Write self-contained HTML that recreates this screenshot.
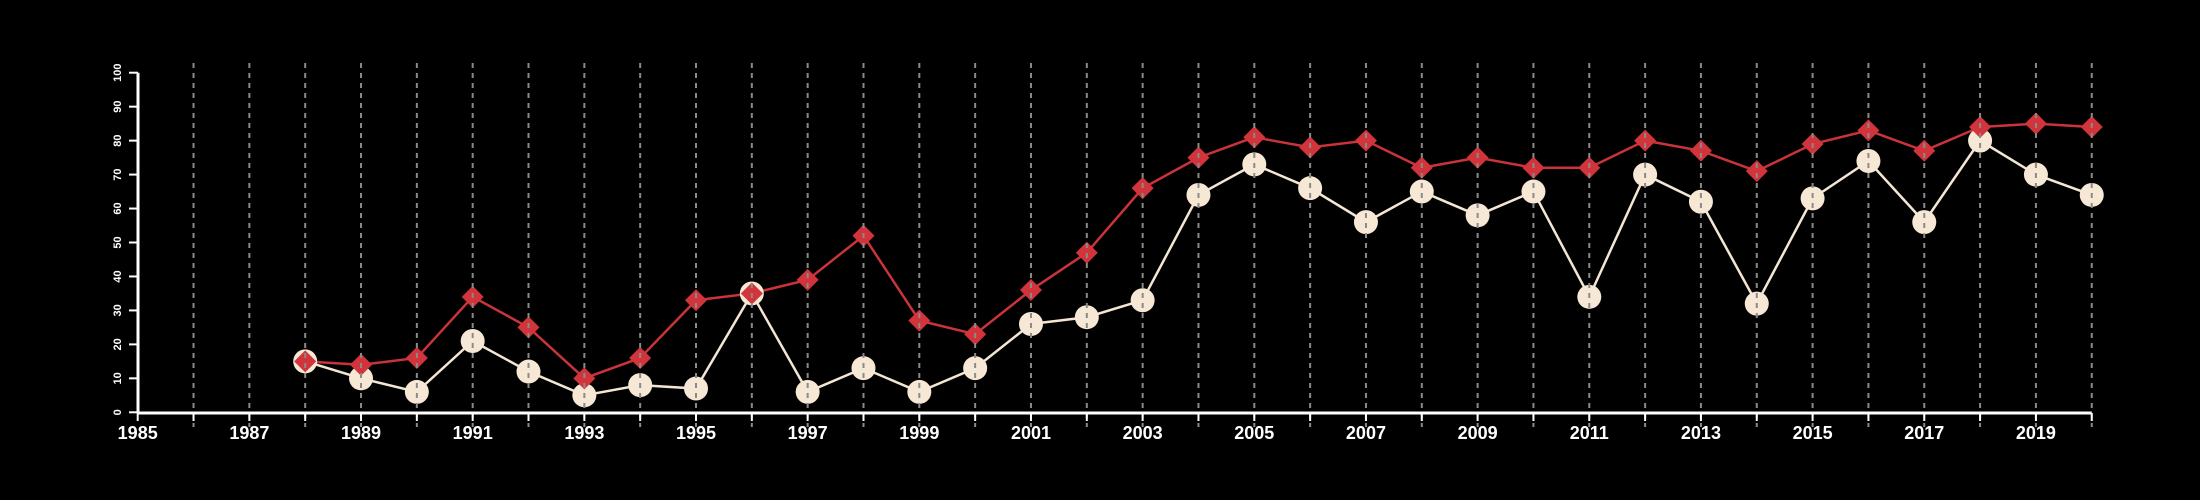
<!DOCTYPE html>
<html><head><meta charset="utf-8"><style>
html,body{margin:0;padding:0;background:#000;}
svg{display:block;font-family:"Liberation Sans",sans-serif;}
</style></head><body>
<svg id="chart" width="2200" height="500" viewBox="0 0 2200 500">
<rect width="2200" height="500" fill="#000"/>
<g id="series"></g><g id="grid"></g><g id="axes"></g>
</svg>
<script>
const years = [1988,1989,1990,1991,1992,1993,1994,1995,1996,1997,1998,1999,2000,2001,2002,2003,2004,2005,2006,2007,2008,2009,2010,2011,2012,2013,2014,2015,2016,2017,2018,2019,2020];
const redValues = [15,14,16,34,25,10,16,33,35,39,52,27,23,36,47,66,75,81,78,80,72,75,72,72,80,77,71,79,83,77,84,85,84];
const creamValues = [15,10,6,21,12,5,8,7,35,6,13,6,13,26,28,33,64,73,66,56,65,58,65,34,70,62,32,63,74,56,80,70,64];
const yTicks = [0,10,20,30,40,50,60,70,80,90,100];
const xTickYears = [1985,1986,1987,1988,1989,1990,1991,1992,1993,1994,1995,1996,1997,1998,1999,2000,2001,2002,2003,2004,2005,2006,2007,2008,2009,2010,2011,2012,2013,2014,2015,2016,2017,2018,2019,2020];
const xLabels = ["1985","1987","1989","1991","1993","1995","1997","1999","2001","2003","2005","2007","2009","2011","2013","2015","2017","2019"];

const NS="http://www.w3.org/2000/svg";
const X=y=>137.7+(y-1985)*55.83;
const Y=v=>412.3-v*3.396;
function mk(tag,attrs,parent){const e=document.createElementNS(NS,tag);for(const k in attrs)e.setAttribute(k,attrs[k]);parent.appendChild(e);return e;}
const grid=document.getElementById('grid'),axes=document.getElementById('axes'),series=document.getElementById('series');

xTickYears.forEach(y=>{
  if(y===1985)return;
  const l=mk('line',{x1:X(y),x2:X(y),y1:63,y2:427,stroke:'#8a8a8a','stroke-width':2,'stroke-dasharray':'5,5'},grid);
  
  
});

// cream series
const cPts=years.map((y,i)=>X(y)+','+Y(creamValues[i])).join(' ');
const cl=mk('polyline',{points:cPts,fill:'none',stroke:'#f3e6d3','stroke-width':2.5},series);


const rPts=years.map((y,i)=>X(y)+','+Y(redValues[i])).join(' ');
const rl=mk('polyline',{points:rPts,fill:'none',stroke:'#c9333a','stroke-width':2.5},series);


years.forEach((y,i)=>{
  const c=mk('circle',{cx:X(y),cy:Y(creamValues[i]),r:12,fill:'#f6e8d4'},series);
  
  
});
years.forEach((y,i)=>{
  const cx=X(y),cy=Y(redValues[i]),s=11;
  const d=mk('polygon',{points:`${cx},${cy-s} ${cx+s},${cy} ${cx},${cy+s} ${cx-s},${cy}`,fill:'#d2343b'},series);
  
  
});

// axes
const xa=mk('line',{x1:X(1985),x2:X(2020),y1:413,y2:413,stroke:'#fff','stroke-width':3},axes);


xTickYears.forEach(y=>{
  const t=mk('line',{x1:X(y),x2:X(y),y1:413,y2:421,stroke:'#fff','stroke-width':2},axes);
  
  
});
xLabels.forEach(s=>{
  const t=mk('text',{x:X(+s),y:439,'text-anchor':'middle',fill:'#fff','font-size':18,'font-weight':'bold'},axes);
  t.textContent=s;
  
  
});
const ya=mk('line',{x1:138,x2:138,y1:Y(0)+1,y2:Y(100),stroke:'#fff','stroke-width':3},axes);


yTicks.forEach(v=>{
  const t=mk('line',{x1:129,x2:138,y1:Y(v),y2:Y(v),stroke:'#fff','stroke-width':2},axes);
  
  
  const lb=mk('text',{x:0,y:0,transform:`translate(121,${Y(v)}) rotate(-90)`,'text-anchor':'middle',fill:'#fff','font-size':11,'font-weight':'bold'},axes);
  lb.textContent=String(v);
  
  
});
</script>
</body></html>
